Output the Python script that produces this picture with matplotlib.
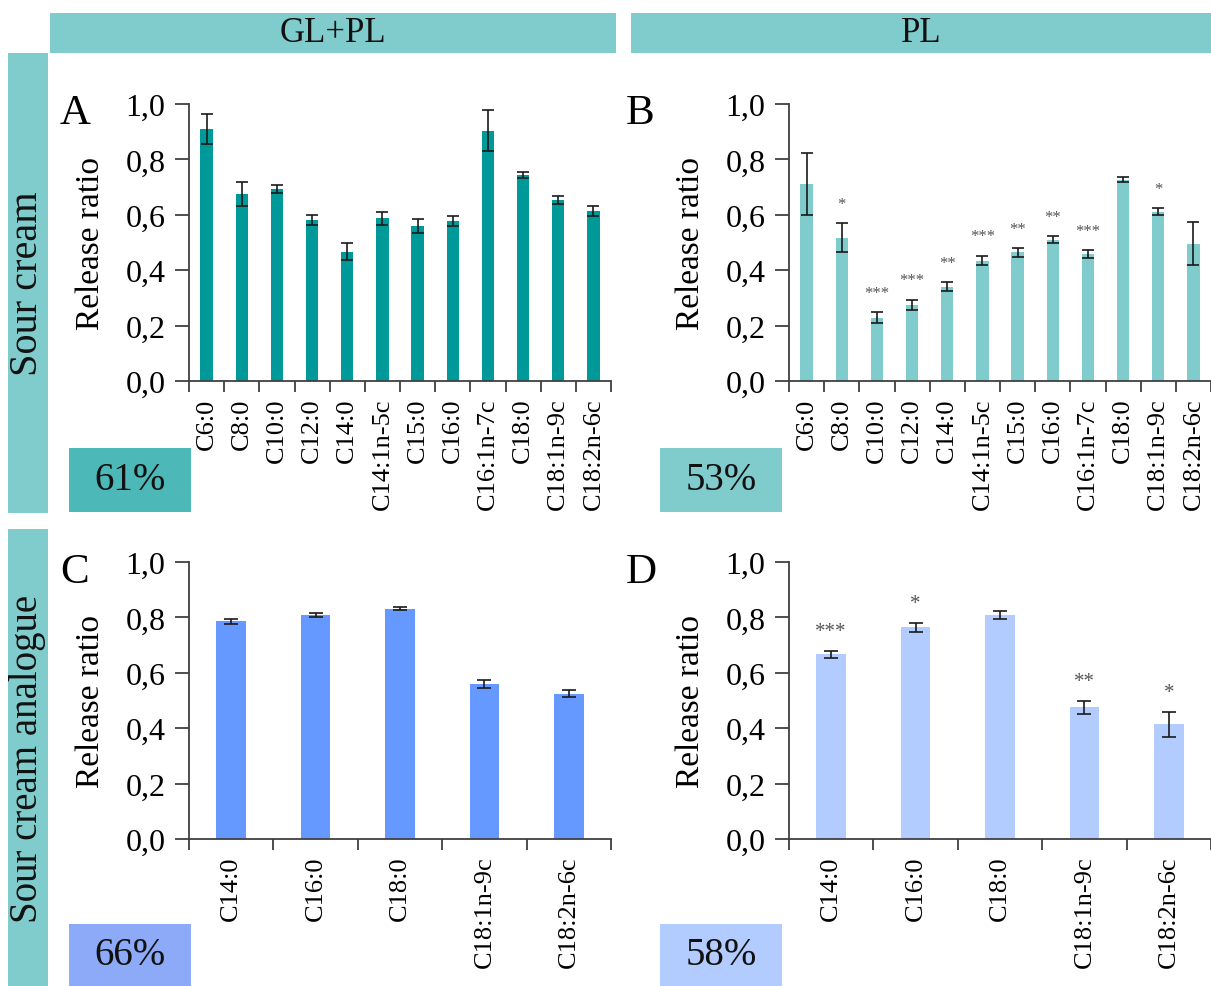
import matplotlib
matplotlib.use('Agg')
import matplotlib.pyplot as plt
from matplotlib.patches import Rectangle
from matplotlib.ticker import FixedLocator, FuncFormatter
import numpy as np

plt.rcParams['font.family'] = ['Liberation Serif', 'DejaVu Serif']

# Fatty acids released (sour cream, top row)
fa_full = ['C6:0', 'C8:0', 'C10:0', 'C12:0', 'C14:0', 'C14:1n-5c', 'C15:0',
           'C16:0', 'C16:1n-7c', 'C18:0', 'C18:1n-9c', 'C18:2n-6c']
a_vals = [0.91, 0.675, 0.693, 0.582, 0.467, 0.587, 0.56, 0.577, 0.904, 0.743, 0.654, 0.613]
a_errs = [0.055, 0.045, 0.015, 0.018, 0.03, 0.024, 0.025, 0.018, 0.074, 0.01, 0.015, 0.017]
b_vals = [0.712, 0.518, 0.229, 0.275, 0.34, 0.435, 0.464, 0.51, 0.459, 0.727, 0.611, 0.496]
b_errs = [0.112, 0.051, 0.02, 0.019, 0.016, 0.017, 0.016, 0.012, 0.014, 0.01, 0.012, 0.078]
b_stars = ['', '*', '***', '***', '**', '***', '**', '**', '***', '', '*', '']

# Sour cream analogue (bottom row)
fa_short = ['C14:0', 'C16:0', 'C18:0', 'C18:1n-9c', 'C18:2n-6c']
c_vals = [0.786, 0.808, 0.831, 0.56, 0.524]
c_errs = [0.01, 0.007, 0.006, 0.014, 0.013]
d_vals = [0.667, 0.764, 0.81, 0.475, 0.414]
d_errs = [0.013, 0.015, 0.014, 0.022, 0.045]
d_stars = ['***', '*', '', '**', '*']

totals = ['61%', '53%', '66%', '58%']

W, H = 1211, 987
fig = plt.figure(figsize=(W / 100, H / 100), dpi=100)


def px_axes(left, top, right, bottom):
    return fig.add_axes([left / W, 1 - bottom / H, (right - left) / W, (bottom - top) / H])


def box(left, top, right, bottom, color, text=None, size=22, rotation=0):
    fig.patches.append(Rectangle((left / W, 1 - bottom / H), (right - left) / W,
                                 (bottom - top) / H, transform=fig.transFigure,
                                 facecolor=color, edgecolor='none', zorder=0))
    if text:
        fig.text((left + right) / 2 / W, 1 - (top + bottom) / 2 / H, text, fontsize=size,
                 rotation=rotation, ha='center', va='center', color='#111111')


def panel(ax, labels, vals, errs, color, stars=None, star_size=12, cap=4):
    x = np.arange(len(labels))
    ax.bar(x, vals, width=0.35, color=color, yerr=errs, capsize=cap,
           error_kw=dict(ecolor='#1a1a1a', elinewidth=1.2, capthick=1.2, clip_on=False),
           zorder=2)
    if stars:
        for xi, v, e, s in zip(x, vals, errs, stars):
            if s:
                ax.text(xi, v + e + 0.07, s, ha='center', va='center',
                        fontsize=star_size, color='#555555')
    ax.set_xlim(-0.5, len(labels) - 0.5)
    ax.set_ylim(0, 1)
    for side in ['top', 'right']:
        ax.spines[side].set_visible(False)
    for side in ['left', 'bottom']:
        ax.spines[side].set_color('#404040')
        ax.spines[side].set_linewidth(1.3)
    ax.set_yticks(np.arange(0, 1.01, 0.2))
    ax.yaxis.set_major_formatter(FuncFormatter(lambda v, p: f'{v:.1f}'.replace('.', ',')))
    ax.tick_params(axis='y', direction='out', length=10, width=1.3, color='#404040',
                   labelsize=23, pad=7)
    ax.set_xticks(x)
    ax.set_xticklabels(labels, rotation=90, fontsize=19)
    ax.tick_params(axis='x', which='major', length=0, pad=12)
    ax.xaxis.set_minor_locator(FixedLocator(np.arange(-0.5, len(labels), 1)))
    ax.tick_params(axis='x', which='minor', direction='out', length=8, width=1.3,
                   color='#404040')
    ax.set_ylabel('Release ratio', fontsize=24)
    ax.yaxis.set_label_coords(-0.197, 0.5)


# Column headers and row labels
box(50, 14, 616, 54, '#80cccc', 'GL+PL', size=25)
box(631, 14, 1211, 54, '#80cccc', 'PL', size=25)
box(8, 54, 48, 514, '#80cccc', 'Sour cream', size=29, rotation=90)
box(8, 530, 48, 987, '#80cccc', 'Sour cream analogue', size=28, rotation=90)

# Overall release boxes
box(69, 449, 191, 513, '#4db8b8', totals[0], size=28)
box(660, 449, 782, 513, '#80cccc', totals[1], size=28)
box(69, 925, 191, 987, '#8caaf8', totals[2], size=28)
box(660, 925, 782, 987, '#b3ccff', totals[3], size=28)

# Panel letters
for letter, (lx, ly) in zip('ABCD', [(60, 114), (626, 114), (60, 573), (626, 573)]):
    fig.text(lx / W, 1 - ly / H, letter, fontsize=31, ha='left', va='center')

ax_a = px_axes(189, 105, 611, 382)
panel(ax_a, fa_full, a_vals, a_errs, '#009999')
ax_b = px_axes(789, 105, 1211, 382)
panel(ax_b, fa_full, b_vals, b_errs, '#80cccc', stars=b_stars, star_size=12)
ax_c = px_axes(189, 563, 611, 840)
panel(ax_c, fa_short, c_vals, c_errs, '#6699ff', cap=5)
ax_d = px_axes(789, 563, 1211, 840)
panel(ax_d, fa_short, d_vals, d_errs, '#b3ccff', stars=d_stars, star_size=15, cap=5)

fig.savefig('out.png', dpi=100)
